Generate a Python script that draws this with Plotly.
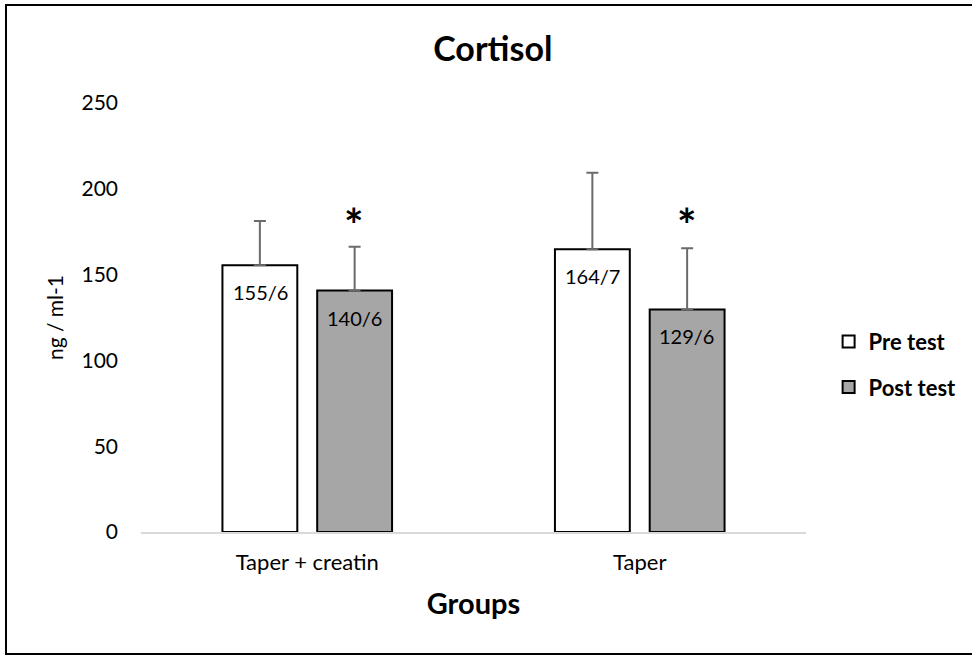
import plotly.graph_objects as go

categories = ["Taper + creatin", "Taper"]
pre_values = [155.5, 164.7]
post_values = [140.7, 129.7]
pre_err_plus = [25.8, 44.6]
post_err_plus = [25.5, 35.7]
pre_labels = ["155/6", "164/7"]
post_labels = ["140/6", "129/6"]
star_value = 179

FONT = "Lato"
fig = go.Figure()
fig.add_trace(go.Bar(
    name="Pre test", x=categories, y=pre_values,
    marker=dict(color="white", line=dict(color="black", width=2)),
    error_y=dict(type="data", array=pre_err_plus, symmetric=False,
                 arrayminus=[0, 0], color="#6b6b6b", thickness=2, width=6),
    legendgroup="pre",
))
fig.add_trace(go.Bar(
    name="Post test", x=categories, y=post_values,
    marker=dict(color="#a6a6a6", line=dict(color="black", width=2)),
    error_y=dict(type="data", array=post_err_plus, symmetric=False,
                 arrayminus=[0, 0], color="#6b6b6b", thickness=2, width=6),
    legendgroup="post",
))

annotations = []
for c, v, t in zip(categories, pre_values, pre_labels):
    annotations.append(dict(x=c, y=v, text=t, showarrow=False, xshift=-47, yshift=-27,
                            yanchor="middle", font=dict(family=FONT, size=20, color="black")))
for c, v, t in zip(categories, post_values, post_labels):
    annotations.append(dict(x=c, y=v, text=t, showarrow=False, xshift=47, yshift=-27,
                            yanchor="middle", font=dict(family=FONT, size=20, color="black")))
    annotations.append(dict(x=c, y=star_value, text="<b>*</b>", showarrow=False, xshift=47,
                            yanchor="middle", font=dict(family=FONT, size=46, color="black")))

fig.update_layout(
    width=972, height=656,
    margin=dict(l=141, r=166, t=103, b=124, autoexpand=False),
    paper_bgcolor="white", plot_bgcolor="white",
    barmode="group", bargap=0.43, bargroupgap=0.21,
    title=dict(text="<b>Cortisol</b>", x=0.507, xanchor="center", y=1 - 49 / 656, yanchor="middle",
               font=dict(family=FONT, size=34, color="black")),
    font=dict(family=FONT, size=20, color="black"),
    xaxis=dict(showline=True, linecolor="#d9d9d9", linewidth=1.5, ticks="", ticklabelstandoff=10,
               title=dict(text="<b>Groups</b>", font=dict(family=FONT, size=29), standoff=20),
               tickfont=dict(family=FONT, size=22)),
    yaxis=dict(range=[0, 250], dtick=50, showgrid=False, zeroline=False, showline=False,
               ticks="", ticklabelstandoff=22,
               title=dict(text="ng / ml-1", font=dict(family=FONT, size=21), standoff=12),
               tickfont=dict(family=FONT, size=21)),
    legend=dict(x=1.034, xanchor="left", y=0.39, yanchor="middle",
                font=dict(family=FONT, size=22, weight="bold"),
                traceorder="grouped", tracegroupgap=14, itemwidth=30),
    annotations=annotations,
    shapes=[dict(type="rect", xref="paper", yref="paper",
                 x0=-135 / 665, x1=(990 - 141) / 665, y0=-122 / 429, y1=(532 - 5) / 429,
                 line=dict(color="black", width=2))],
)
fig.write_html("out.html")
